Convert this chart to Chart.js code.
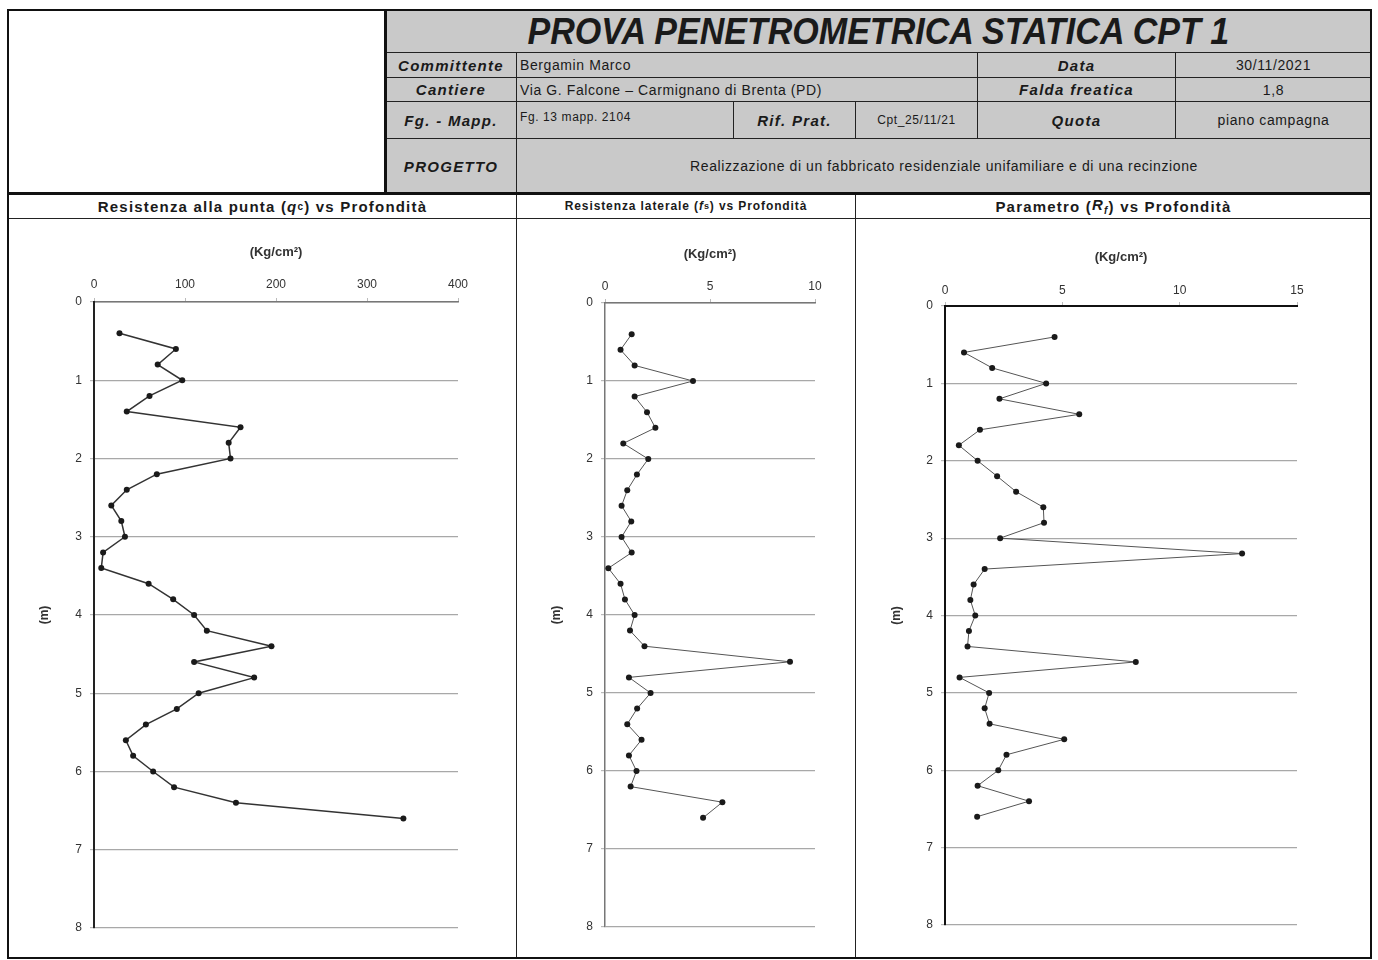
<!DOCTYPE html>
<html><head><meta charset="utf-8">
<script src="https://cdn.jsdelivr.net/npm/chart.js@4/dist/chart.umd.min.js"></script>
<style>
html,body{margin:0;padding:0;background:#fff;}
body{width:1378px;height:960px;position:relative;overflow:hidden;font-family:"Liberation Sans",Arial,sans-serif;color:#1a1a1a;}
.c{position:absolute;box-sizing:border-box;border:1px solid #222;display:flex;align-items:center;justify-content:center;white-space:nowrap;overflow:hidden;}
.g{background:#c9c9c9;}
.w{background:#fff;}
.lab{font-weight:bold;font-style:italic;font-size:15px;letter-spacing:1.3px;}
.val{font-size:14px;letter-spacing:0.6px;}
.left{justify-content:flex-start;padding-left:3px;}
.sub{font-weight:bold;font-size:15px;letter-spacing:1.2px;}
canvas{position:absolute;}
</style></head>
<body>
<div id="hdr"></div>
<canvas id="c1" width="506" height="738" style="left:9px;top:219px"></canvas>
<canvas id="c2" width="337" height="738" style="left:517px;top:219px"></canvas>
<canvas id="c3" width="514" height="738" style="left:856px;top:219px"></canvas>
<script>
// ---- data ----
const depths = [0.4,0.6,0.8,1.0,1.2,1.4,1.6,1.8,2.0,2.2,2.4,2.6,2.8,3.0,3.2,3.4,3.6,3.8,4.0,4.2,4.4,4.6,4.8,5.0,5.2,5.4,5.6,5.8,6.0,6.2,6.4,6.6];
const qc = [28,90,70,97,61,36,161,148,150,69,36,19,30,34,10,8,60,87,110,124,195,110,176,115,91,57,35,43,65,88,156,340];
const fs = [1.27,0.74,1.41,4.19,1.41,2.0,2.4,0.87,2.06,1.52,1.06,0.79,1.25,0.79,1.27,0.16,0.74,0.95,1.41,1.19,1.88,8.81,1.14,2.17,1.53,1.06,1.74,1.14,1.5,1.22,5.59,4.67];
const rf = [4.67,0.81,2.01,4.31,2.32,5.72,1.49,0.59,1.39,2.22,3.03,4.19,4.22,2.35,12.66,1.69,1.22,1.08,1.29,1.02,0.96,8.13,0.62,1.88,1.69,1.9,5.08,2.62,2.27,1.39,3.58,1.37];
const xMax = [400,10,15];
const xStep = [100,5,5];
const yTicks = [0,1,2,3,4,5,6,7,8];
const unitLabel = "(Kg/cm²)";
const depthLabel = "(m)";

// ---- header ----
const cells = [
 [7,9,385,193,'','w'],
 [385,9,1371,52,'<span style="display:inline-block;transform:scaleX(0.92);">PROVA PENETROMETRICA STATICA CPT 1</span>','g','font-weight:bold;font-style:italic;font-size:37px;padding-top:2px;'],
 [385,52,516,77,'Committente','g lab'],
 [516,52,977,77,'Bergamin Marco','g val left'],
 [977,52,1175,77,'Data','g lab'],
 [1175,52,1371,77,'30/11/2021','g val'],
 [385,77,516,101,'Cantiere','g lab'],
 [516,77,977,101,'Via G. Falcone – Carmignano di Brenta (PD)','g val left'],
 [977,77,1175,101,'Falda freatica','g lab'],
 [1175,77,1371,101,'1,8','g val'],
 [385,101,516,138,'Fg. - Mapp.','g lab'],
 [516,101,733,138,'Fg. 13 mapp. 2104','g val left','align-items:flex-start;padding-top:8px;font-size:12px;'],
 [733,101,855,138,'Rif. Prat.','g lab'],
 [855,101,977,138,'Cpt_25/11/21','g val','font-size:12px;'],
 [977,101,1175,138,'Quota','g lab'],
 [1175,101,1371,138,'piano campagna','g val'],
 [385,138,516,193,'PROGETTO','g lab'],
 [516,138,1371,193,'Realizzazione di un fabbricato residenziale unifamiliare e di una recinzione','g val'],
 [8,193,516,218,'Resistenza alla punta (<i>q</i><sub style="font-size:10px">c</sub>) vs Profondità','w sub'],
 [516,193,855,218,'Resistenza laterale (<i>f</i><sub style="font-size:9px">s</sub>) vs Profondità','w sub','font-size:12px;letter-spacing:0.9px;'],
 [855,193,1371,218,'Parametro (<i>R<sub style="font-size:10px">f</sub></i>) vs Profondità','w sub'],
 [8,218,516,958,'','w'],
 [516,218,855,958,'','w'],
 [855,218,1371,958,'','w']
];
const hdr = document.getElementById('hdr');
cells.forEach(c=>{
  const d=document.createElement('div');
  d.className='c '+c[5];
  d.style.cssText+='left:'+c[0]+'px;top:'+c[1]+'px;width:'+(c[2]-c[0]+1)+'px;height:'+(c[3]-c[1]+1)+'px;'+(c[6]||'');
  d.innerHTML=c[4];
  hdr.appendChild(d);
});
// heavier frames
[[7,9,385,193],[385,9,1371,193],[7,193,1371,958]].forEach(f=>{
  const d=document.createElement('div');
  d.style.cssText='position:absolute;box-sizing:border-box;border:2px solid #111;left:'+f[0]+'px;top:'+f[1]+'px;width:'+(f[2]-f[0]+1)+'px;height:'+(f[3]-f[1]+1)+'px;';
  hdr.appendChild(d);
});

// ---- charts ----
const specs = [
 {id:'c1', vals:qc, yW:85, xH:83, pr:57, pb:29, xt:26, yt:28, tp:6, line:'#333', lw:1.5, yb:'#222', ybw:2, xb:'#777', xbw:1.5},
 {id:'c2', vals:fs, yW:88, xH:84, pr:39, pb:30, xt:28, yt:32, tp:5, line:'#555', lw:1, yb:'#777', ybw:1.5, xb:'#777', xbw:1.5},
 {id:'c3', vals:rf, yW:89, xH:87, pr:73, pb:32, xt:31, yt:33, tp:4, line:'#555', lw:1, yb:'#111', ybw:2, xb:'#111', xbw:2}
];
Chart.defaults.font.family = '"Liberation Sans", Arial, sans-serif';
Chart.defaults.font.size = 12;
Chart.defaults.color = '#333';
specs.forEach((s,i)=>{
  new Chart(document.getElementById(s.id), {
    type:'scatter',
    data:{datasets:[{
      data: depths.map((d,k)=>({x:s.vals[k], y:d})),
      showLine:true, borderColor:s.line, borderWidth:s.lw,
      pointRadius:3, pointBackgroundColor:'#1a1a1a', pointBorderColor:'#1a1a1a', pointBorderWidth:0,
      clip:false
    }]},
    options:{
      responsive:false, animation:false, devicePixelRatio:1,
      layout:{padding:{right:s.pr, bottom:s.pb, top:0, left:0}},
      plugins:{legend:{display:false}, tooltip:{enabled:false}},
      scales:{
        x:{type:'linear', position:'top', min:0, max:xMax[i],
          ticks:{stepSize:xStep[i], padding:s.tp, color:'#333', maxRotation:0},
          grid:{display:true, drawOnChartArea:false, drawTicks:true, tickLength:4, tickColor:'#bbb'},
          border:{display:true, color:s.xb, width:s.xbw},
          title:{display:true, text:unitLabel, font:{size:13, weight:'bold'}, color:'#333', padding:{top:s.xt, bottom:0}},
          afterFit:(sc)=>{sc.height=s.xH;}
        },
        y:{type:'linear', reverse:true, min:0, max:8,
          afterBuildTicks:(sc)=>{sc.ticks=yTicks.map(v=>({value:v}));},
          ticks:{padding:8, color:'#333'},
          grid:{display:true, color:'#a8a8a8', lineWidth:1.2, drawTicks:true, tickLength:4, tickColor:'#bbb'},
          border:{display:true, color:s.yb, width:s.ybw},
          title:{display:true, text:depthLabel, font:{size:12, weight:'bold'}, color:'#333', padding:{top:s.yt, bottom:0}},
          afterFit:(sc)=>{sc.width=s.yW;}
        }
      }
    }
  });
});
</script>
</body></html>
